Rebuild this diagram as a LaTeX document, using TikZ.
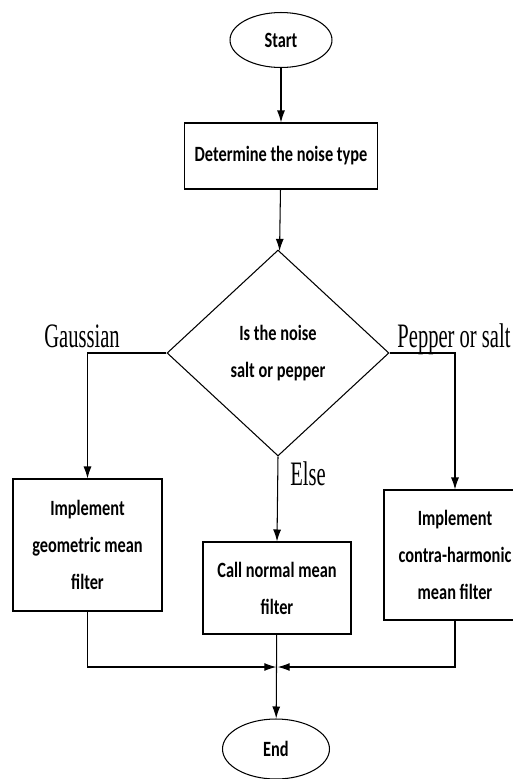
\documentclass[tikz,border=0pt]{standalone}
\usepackage{fontspec}
\setmainfont{Carlito}[FakeStretch=0.75]
\newfontfamily\lblfont{Liberation Serif}[FakeStretch=0.6]
\usetikzlibrary{shapes.geometric,arrows.meta}

\begin{document}
\begin{tikzpicture}[x=0.02cm, y=-0.02cm, line width=0.6pt,
  >={Latex[length=2.4mm,width=1.6mm]},
  box/.style={draw, rectangle, align=center, inner sep=0pt,
    font=\fontsize{12.4}{21}\selectfont\bfseries},
  term/.style={draw, ellipse, inner sep=0pt,
    font=\fontsize{12.4}{21}\selectfont\bfseries},
  decide/.style={draw, diamond, aspect=1.08, align=center, inner sep=0pt,
    minimum width=4.44cm, minimum height=4.12cm,
    font=\fontsize{12.4}{21}\selectfont\bfseries},
  lbl/.style={inner sep=0pt, font=\lblfont\fontsize{19.5}{21}\selectfont}]

% Page size of the reference
\useasboundingbox (0,0) rectangle (512,779);

% Start, first step and the question
\node [term, minimum width=2.04cm, minimum height=1.1cm] (start) at (281,40) {Start};
\node [box, minimum width=3.86cm, minimum height=1.32cm] (det) at (281,156) {Determine the noise type};
\node [decide] (dia) at (278,353) {Is the noise\\salt or pepper};

% The three filters
\node [box, minimum width=2.98cm, minimum height=2.64cm] (geo) at (87.5,545) {Implement\\geometric mean\\filter};
\node [box, minimum width=2.96cm, minimum height=1.84cm] (mid) at (277,588) {Call normal mean\\filter};
\node [box, minimum width=2.84cm, minimum height=2.6cm] (contra) at (455,555) {Implement\\contra-harmonic\\mean filter};

% End
\node [term, minimum width=2.14cm, minimum height=1.2cm] (end) at (276,749) {End};

% Branch labels
\foreach \nm/\px/\py/\lab in {
  gau/82/347/Gaussian,
  pep/454/347/{Pepper or salt},
  els/308/485/Else} {
  \node [lbl, anchor=base] (\nm) at (\px,\py) {\lab};
}

% Connectors
\draw [->] (start) -- (det);
\draw [->] (det) -- (dia);
\draw [->] (dia.west) -| (geo.north);
\draw [->] (dia.east) -| (contra.north);
\draw [->] (dia.south) -- (mid.north);
\draw [->] (mid) -- (end);

% Joining the side branches
\coordinate (jn) at (mid.south |- 0,667);
\draw [->, shorten >=0.4pt] (geo.south) |- (jn);
\draw [->, shorten >=0.4pt] (contra.south) |- (jn);

\end{tikzpicture}
\end{document}
